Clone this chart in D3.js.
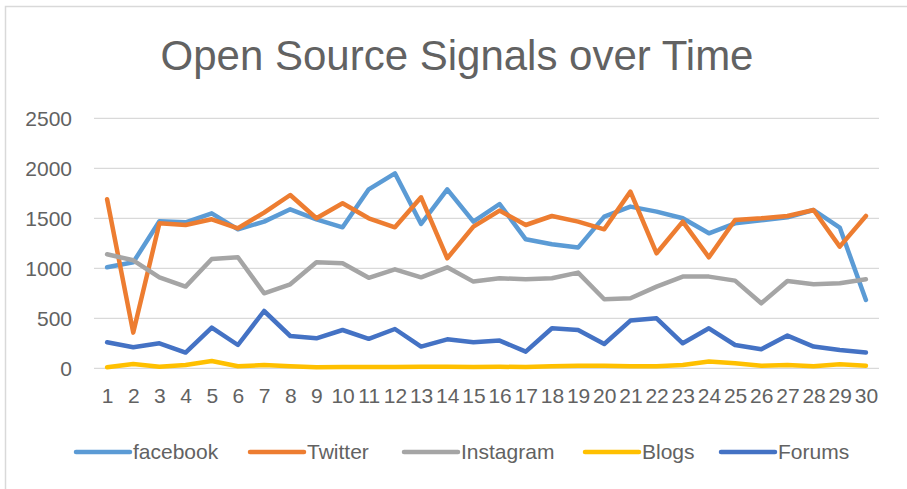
<!DOCTYPE html>
<html>
<head>
<meta charset="utf-8">
<script src="https://cdn.jsdelivr.net/npm/d3@7"></script>
<style>
	body { margin: 0; background: #fff; }
	text { font-family: "Liberation Sans", Arial, sans-serif; fill: #626262; }
</style>
</head>
<body>
<svg id="chart"></svg>
<script>
var days = d3.range(1, 31);
var yTicks = [0, 500, 1000, 1500, 2000, 2500];

var facebook = [1010, 1060, 1470, 1460, 1550, 1390, 1467, 1590, 1490, 1410,
	1790, 1950, 1443, 1790, 1467, 1643, 1290, 1240, 1207, 1517,
	1617, 1567, 1500, 1350, 1450, 1480, 1510, 1583, 1407, 683];
var twitter = [1690, 357, 1450, 1433, 1490, 1400, 1557, 1733, 1500, 1650,
	1500, 1410, 1710, 1100, 1417, 1577, 1433, 1523, 1467, 1390,
	1767, 1150, 1467, 1110, 1483, 1500, 1523, 1583, 1217, 1523];
var instagram = [1140, 1080, 910, 817, 1093, 1110, 750, 840, 1060, 1050,
	905, 990, 910, 1010, 867, 900, 890, 900, 957, 690,
	700, 817, 917, 917, 877, 650, 873, 840, 850, 890];
var blogs = [10, 43, 15, 33, 73, 20, 33, 20, 10, 13,
	13, 13, 15, 15, 13, 15, 13, 20, 25, 25,
	20, 20, 33, 67, 50, 25, 33, 20, 40, 25];
var forums = [260, 210, 250, 157, 407, 233, 573, 323, 300, 383,
	295, 393, 217, 290, 260, 277, 167, 400, 383, 243,
	477, 500, 250, 400, 233, 190, 327, 217, 183, 157];

var series = [
	{name: "facebook", values: facebook, color: "#5B9BD5"},
	{name: "Twitter", values: twitter, color: "#ED7D31"},
	{name: "Instagram", values: instagram, color: "#A5A5A5"},
	{name: "Blogs", values: blogs, color: "#FFC000"},
	{name: "Forums", values: forums, color: "#4472C4"}
];

var width = 907, height = 489;
var svg = d3.select("#chart").attr("width", width).attr("height", height);

// chart border (only left and top show in the picture)
svg.append("path")
	.attr("d", "M5.5," + height + "V6.5H" + width)
	.attr("fill", "none")
	.attr("stroke", "#d9d9d9")
	.attr("stroke-width", 1.5);

svg.append("text")
	.attr("x", 457).attr("y", 70)
	.attr("text-anchor", "middle")
	.attr("font-size", 42)
	.text("Open Source Signals over Time");

var x = d3.scalePoint().domain(days).range([94, 879]).padding(0.5);
var y = d3.scaleLinear().domain([0, 2500]).range([368.3, 118.3]);

var grid = svg.append("g").attr("class", "grid");
grid.selectAll("line")
	.data(yTicks)
	.enter().append("line")
	.attr("x1", 94).attr("x2", 879)
	.attr("y1", function(d) { return y(d); })
	.attr("y2", function(d) { return y(d); })
	.attr("stroke", "#d9d9d9")
	.attr("stroke-width", 1.2);

var yAxis = svg.append("g")
	.attr("transform", "translate(72,0)")
	.call(d3.axisLeft(y).tickValues(yTicks).tickFormat(d3.format("d")).tickSize(0).tickPadding(0));
yAxis.select(".domain").remove();
yAxis.selectAll("text")
	.attr("font-size", 21)
	.attr("font-family", null)
	.attr("fill", null)
	.attr("dy", "0.35em");

var xAxis = svg.append("g")
	.attr("transform", "translate(0,388)")
	.call(d3.axisBottom(x).tickSize(0).tickPadding(0));
xAxis.select(".domain").remove();
xAxis.selectAll("text")
	.attr("font-size", 21)
	.attr("font-family", null)
	.attr("fill", null)
	.attr("dy", "0.71em");

var line = d3.line()
	.x(function(d, i) { return x(days[i]); })
	.y(function(d) { return y(d); });

svg.append("g").attr("class", "lines")
	.selectAll("path")
	.data(series)
	.enter().append("path")
	.attr("d", function(s) { return line(s.values); })
	.attr("fill", "none")
	.attr("stroke", function(s) { return s.color; })
	.attr("stroke-width", 4.5)
	.attr("stroke-linejoin", "round")
	.attr("stroke-linecap", "round");

// legend
var legendX = [76, 250, 404, 585, 721];
var legend = svg.append("g").attr("class", "legend")
	.selectAll("g")
	.data(series)
	.enter().append("g")
	.attr("transform", function(s, i) { return "translate(" + legendX[i] + ",452)"; });
legend.append("line")
	.attr("x1", 0).attr("x2", 54)
	.attr("stroke", function(s) { return s.color; })
	.attr("stroke-width", 4.5)
	.attr("stroke-linecap", "round");
legend.append("text")
	.attr("x", 57)
	.attr("dy", "0.35em")
	.attr("font-size", 21)
	.text(function(s) { return s.name; });
</script>
</body>
</html>
